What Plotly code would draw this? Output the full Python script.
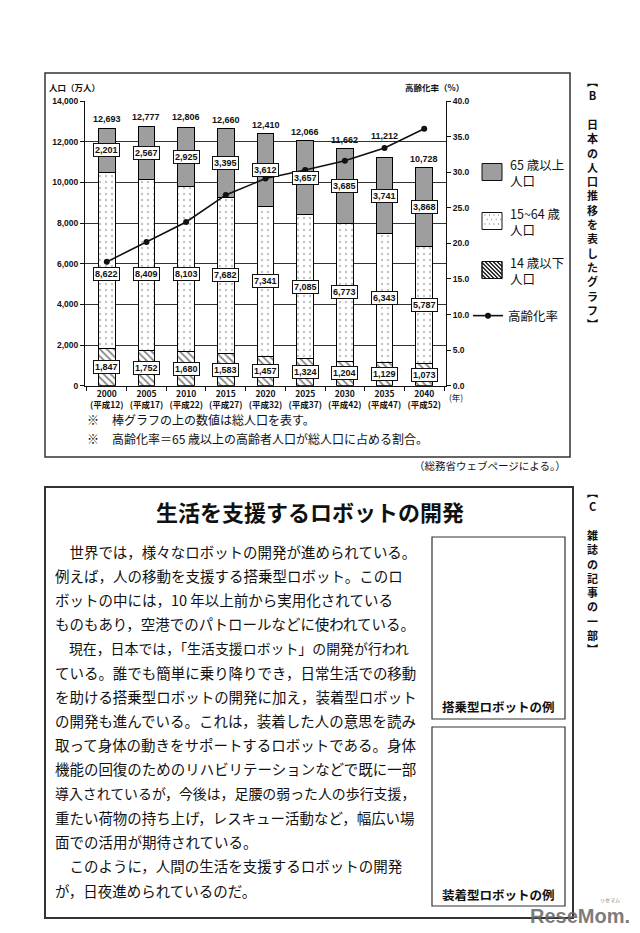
import plotly.graph_objects as go

# ---------------- data ----------------
years = ["2000", "2005", "2010", "2015", "2020", "2025", "2030", "2035", "2040"]
heisei = ["平成12", "平成17", "平成22", "平成27", "平成32", "平成37", "平成42", "平成47", "平成52"]
total = [12693, 12777, 12806, 12660, 12410, 12066, 11662, 11212, 10728]
pop65 = [2201, 2567, 2925, 3395, 3612, 3657, 3685, 3741, 3868]
pop15_64 = [8622, 8409, 8103, 7682, 7341, 7085, 6773, 6343, 5787]
pop0_14 = [1847, 1752, 1680, 1583, 1457, 1324, 1204, 1129, 1073]
aging = [17.4, 20.2, 23.0, 26.8, 29.1, 30.3, 31.6, 33.4, 36.1]

legend_names = ["65 歳以上<br>人口", "15~64 歳<br>人口", "14 歳以下<br>人口", "高齢化率"]
left_title = "人口（万人）"
right_title = "高齢化率（%）"
year_unit = "(年)"
notes = ["棒グラフの上の数値は総人口を表す。",
         "高齢化率＝65 歳以上の高齢者人口が総人口に占める割合。"]
source = "（総務省ウェブページによる。）"
label_b = ["︻", "B", "　", "日", "本", "の", "人", "口", "推", "移", "を", "表", "し", "た", "グ", "ラ", "フ", "︼"]
label_c = ["︻", "C", "　", "雑", "誌", "の", "記", "事", "の", "一", "部", "︼"]
article_title = "生活を支援するロボットの開発"
article_lines = [
    "　世界では，様々なロボットの開発が進められている。",
    "例えば，人の移動を支援する搭乗型ロボット。このロ",
    "ボットの中には，10 年以上前から実用化されている",
    "ものもあり，空港でのパトロールなどに使われている。",
    "　現在，日本では，「生活支援ロボット」の開発が行われ",
    "ている。誰でも簡単に乗り降りでき，日常生活での移動",
    "を助ける搭乗型ロボットの開発に加え，装着型ロボット",
    "の開発も進んでいる。これは，装着した人の意思を読み",
    "取って身体の動きをサポートするロボットである。身体",
    "機能の回復のためのリハビリテーションなどで既に一部",
    "導入されているが，今後は，足腰の弱った人の歩行支援，",
    "重たい荷物の持ち上げ，レスキュー活動など，幅広い場",
    "面での活用が期待されている。",
    "　このように，人間の生活を支援するロボットの開発",
    "が，日夜進められているのだ。",
]
photo_labels = ["搭乗型ロボットの例", "装着型ロボットの例"]

# ---------------- helpers ----------------
W, H = 640, 933
CJK = "Noto Sans CJK JP"
ARIAL = "Liberation Sans, Arial"
Y_MAX, Y2_MAX = 14000, 40
LEG_X, LEG_TEXT_X = 468, 508
SW_X0, SW_X1, SW_H = 482, 502, 17
LEG_Y = [172, 221, 270, 316]   # legend rows: 65+, 15-64, 0-14, ageing rate


def px(x):
    return x / W


def py(y):
    return 1 - y / H


def text_units(s):
    u = 0.0
    for ch in s:
        if ord(ch) < 128:
            u += 0.3 if ch == " " else 0.56
        else:
            u += 1.0
    return u


def note(x, y, text, font, xanchor="left", yanchor="middle", **kw):
    d = dict(x=px(x), y=py(y), xref="paper", yref="paper", text=text, showarrow=False,
             xanchor=xanchor, yanchor=yanchor, font=font)
    d.update(kw)
    return d


cats = [f"{y}<br>({h})" for y, h in zip(years, heisei)]

fig = go.Figure()

fig.add_trace(go.Bar(
    x=cats, y=pop0_14, name="14 歳以下人口", showlegend=False,
    width=0.42,
    marker=dict(color="white", line=dict(color="black", width=1),
                pattern=dict(shape="\\", fgcolor="#111", bgcolor="white", size=5, solidity=0.35)),
    hoverinfo="skip"))
fig.add_trace(go.Bar(
    x=cats, y=pop15_64, name="15~64 歳人口", showlegend=False,
    width=0.42,
    marker=dict(color="white", line=dict(color="black", width=1),
                pattern=dict(shape=".", fgcolor="#888", bgcolor="white", size=6, solidity=0.12)),
    hoverinfo="skip"))
fig.add_trace(go.Bar(
    x=cats, y=pop65, name="65 歳以上人口", showlegend=False,
    width=0.42,
    marker=dict(color="#9e9e9e", line=dict(color="black", width=1)),
    hoverinfo="skip"))
fig.add_trace(go.Scatter(
    x=cats, y=aging, name=legend_names[3], legend="legend",
    yaxis="y2", mode="lines+markers",
    line=dict(color="#111", width=1.6),
    marker=dict(color="#111", size=6),
    hoverinfo="skip"))

annotations = []
box_font = dict(family=ARIAL, size=9, color="#111", weight="bold")
MID_CAP = 5500
for i, c in enumerate(cats):
    # total label above the bar; lifted over the ageing-rate line when they would collide
    line_equiv = aging[i] / Y2_MAX * Y_MAX
    ytot = total[i] + 420
    if abs(line_equiv - ytot) < 600:
        ytot = line_equiv + 600
    annotations.append(dict(x=c, y=ytot, xref="x", yref="y", text=f"{total[i]:,}",
                            showarrow=False, xanchor="center", yanchor="middle",
                            font=box_font))
    y65 = pop0_14[i] + pop15_64[i] + pop65[i] / 2
    y15 = min(pop0_14[i] + pop15_64[i] / 2, MID_CAP)
    y0 = pop0_14[i] / 2
    for val, yy in ((pop65[i], y65), (pop15_64[i], y15), (pop0_14[i], y0)):
        annotations.append(dict(x=c, y=yy, xref="x", yref="y", text=f"{val:,}",
                                showarrow=False, xanchor="center", yanchor="middle",
                                font=box_font, bgcolor="white",
                                bordercolor="#111", borderwidth=1, borderpad=1))

# legend texts for the bar series (two lines each)
lfont = dict(family=CJK, size=12.5, color="#111")
for name, yy in zip(legend_names[:3], LEG_Y[:3]):
    annotations.append(note(LEG_TEXT_X, yy, name, lfont, align="left"))

small = dict(family=CJK, size=8.5, color="#111", weight="bold")
annotations += [
    note(47, 87, left_title, small),
    note(466, 87, right_title, small, xanchor="right"),
    note(456, 397, year_unit, dict(family=CJK, size=8.5, color="#111"), xanchor="center"),
]
nfont = dict(family=CJK, size=12, color="#111")
for k, t in enumerate(notes):
    yy = 420 + k * 18
    annotations.append(note(85, yy, "※", nfont))
    annotations.append(note(110, yy, t, nfont))
annotations.append(note(568, 465, source, dict(family=CJK, size=10.5, color="#111"), xanchor="right"))

# vertical section labels
vfont = dict(family=CJK, size=11, color="#111", weight="bold")
annotations.append(note(592, 71, "<br>".join(label_b), vfont, xanchor="center", yanchor="top"))
annotations.append(note(592, 482, "<br>".join(label_c), vfont, xanchor="center", yanchor="top"))

# article
annotations.append(note(310, 511, article_title, dict(family=CJK, size=22, color="#111", weight="bold"),
                        xanchor="center"))
first, last = 551, 890
step = (last - first) / (len(article_lines) - 1)
LINE_W = 362
BASE = 14.5
for k, line in enumerate(article_lines):
    u = text_units(line)
    size = min(BASE, LINE_W / u)
    annotations.append(note(53, first + k * step, line, dict(family=CJK, size=size, color="#111")))
for lab, yy in zip(photo_labels, (706, 894)):
    annotations.append(note(498.5, yy, lab, dict(family=CJK, size=12.5, color="#111", weight="bold"),
                            xanchor="center"))
# watermark
annotations.append(note(580, 916, "ReseMom.", dict(family="Liberation Sans Narrow, Liberation Sans",
                                                   size=20, color="rgba(100,100,100,0.85)",
                                                   weight="bold"), xanchor="center"))
annotations.append(note(610, 900, "リセマム", dict(family=CJK, size=5, color="#777"), xanchor="center"))

shapes = [
    dict(type="rect", xref="paper", yref="paper", x0=px(45), x1=px(570), y0=py(457), y1=py(73),
         line=dict(color="#333", width=1.5)),
    dict(type="rect", xref="paper", yref="paper", x0=px(45), x1=px(573), y0=py(918), y1=py(487),
         line=dict(color="#333", width=2)),
    dict(type="rect", xref="paper", yref="paper", x0=px(432), x1=px(565), y0=py(719), y1=py(537),
         line=dict(color="#333", width=1.2)),
    dict(type="rect", xref="paper", yref="paper", x0=px(432), x1=px(565), y0=py(906), y1=py(727),
         line=dict(color="#333", width=1.2)),
]

# ---- legend swatches for the bar series (drawn as shapes) ----
def swatch_rect(yc, fill):
    return dict(type="rect", xref="paper", yref="paper", layer="above",
                x0=px(SW_X0), x1=px(SW_X1), y0=py(yc + SW_H / 2), y1=py(yc - SW_H / 2),
                fillcolor=fill, line=dict(color="#111", width=1))


def dots_path(yc, gap=4.5):
    parts = []
    ytop, ybot = yc - SW_H / 2, yc + SW_H / 2
    row = 0
    y = ytop + 2.5
    while y < ybot - 1:
        x = SW_X0 + 2.5 + (gap / 2 if row % 2 else 0)
        while x < SW_X1 - 1:
            parts.append(f"M{px(x)},{py(y)}L{px(x + 0.9)},{py(y)}")
            x += gap
        y += gap
        row += 1
    return "".join(parts)


def hatch_path(yc, gap=4.0):
    parts = []
    ytop = yc - SW_H / 2
    w = SW_X1 - SW_X0
    c = -SW_H
    while c < w:
        ys = ytop + max(0.0, -c)
        ye = ytop + min(SW_H, w - c)
        if ye > ys:
            xs = SW_X0 + c + (ys - ytop)
            xe = SW_X0 + c + (ye - ytop)
            parts.append(f"M{px(xs)},{py(ys)}L{px(xe)},{py(ye)}")
        c += gap
    return "".join(parts)


shapes.append(swatch_rect(LEG_Y[0], "#9e9e9e"))
shapes.append(swatch_rect(LEG_Y[1], "white"))
shapes.append(dict(type="path", xref="paper", yref="paper", layer="above", path=dots_path(LEG_Y[1]),
                   line=dict(color="#888", width=1.3)))
shapes.append(swatch_rect(LEG_Y[2], "white"))
shapes.append(dict(type="path", xref="paper", yref="paper", layer="above", path=hatch_path(LEG_Y[2]),
                   line=dict(color="#111", width=1.3)))
shapes.append(dict(type="rect", xref="paper", yref="paper", layer="above",
                   x0=px(SW_X0), x1=px(SW_X1), y0=py(LEG_Y[2] + SW_H / 2), y1=py(LEG_Y[2] - SW_H / 2),
                   fillcolor="rgba(0,0,0,0)", line=dict(color="#111", width=1)))

tickfont = dict(family=ARIAL, size=8.5, color="#111", weight="bold")
fig.update_layout(
    width=W, height=H,
    margin=dict(l=0, r=0, t=0, b=0),
    paper_bgcolor="white", plot_bgcolor="white",
    barmode="stack", bargap=0.58,
    showlegend=True,
    legend=dict(x=px(LEG_X), y=py(LEG_Y[3]), xanchor="left", yanchor="middle",
                font=lfont, bgcolor="rgba(0,0,0,0)", itemwidth=30),
    xaxis=dict(domain=[px(85), px(446)], type="category", showgrid=False,
               showline=True, linecolor="#111", linewidth=1,
               ticks="outside", tickson="boundaries", ticklen=4, tickcolor="#111",
               tickangle=0, tickfont=dict(family=CJK, size=8.5, color="#111", weight="bold"),
               automargin=False),
    yaxis=dict(domain=[py(385.7), py(101)], range=[0, Y_MAX], dtick=2000,
               tickformat=",d", showgrid=True, gridcolor="#333", gridwidth=1.2,
               showline=True, linecolor="#111", linewidth=1,
               ticks="outside", ticklen=4, tickcolor="#111", tickfont=tickfont,
               zeroline=False, automargin=False),
    yaxis2=dict(overlaying="y", side="right", range=[0, Y2_MAX], dtick=5, tickformat=".1f",
                showgrid=False, showline=True, linecolor="#111", linewidth=1,
                ticks="outside", ticklen=4, tickcolor="#111", tickfont=tickfont,
                zeroline=False, automargin=False),
    annotations=annotations,
    shapes=shapes,
)

fig.write_html("out.html")
